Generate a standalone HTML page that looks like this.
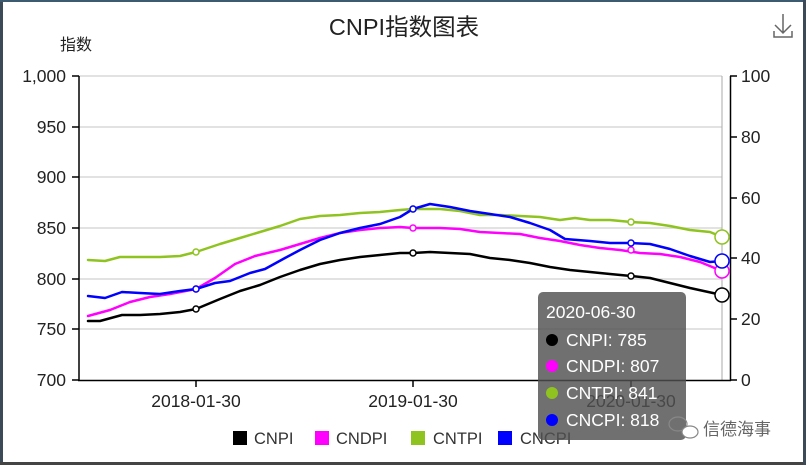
<!DOCTYPE html>
<html><head><meta charset="utf-8"><style>
body{margin:0;background:#fff;width:806px;height:465px;overflow:hidden;font-family:"Liberation Sans","Noto Sans CJK SC",sans-serif}
</style></head><body>
<svg width="806" height="465" viewBox="0 0 806 465" xmlns="http://www.w3.org/2000/svg" font-family="Liberation Sans, Noto Sans CJK SC, sans-serif">
<rect width="806" height="465" fill="#fff"/>
<rect x="0" y="0" width="3" height="465" fill="#3c4a58"/>
<rect x="0" y="0" width="806" height="2" fill="#3c5a70"/>
<rect x="0" y="462" width="806" height="3" fill="#444"/>
<rect x="803" y="0" width="3" height="465" fill="#3c4a58"/>
<text x="404" y="35" font-size="23.5" text-anchor="middle" fill="#222">CNPI指数图表</text>
<g stroke="#666" stroke-width="1.5" fill="none"><path d="M783 14V33M775 25L783 33L791 25M774 31V37H792V31"/></g>
<text x="60" y="50" font-size="16" fill="#222">指数</text>
<g stroke="#d8d8d8" stroke-width="1.5">
<line x1="79" y1="76" x2="722" y2="76"/><line x1="79" y1="127" x2="722" y2="127"/><line x1="79" y1="177" x2="722" y2="177"/><line x1="79" y1="228" x2="722" y2="228"/><line x1="79" y1="279" x2="722" y2="279"/><line x1="79" y1="329" x2="722" y2="329"/>
</g>
<line x1="722" y1="76" x2="722" y2="380" stroke="#aaa" stroke-width="1"/>
<g stroke="#000" stroke-width="1.5">
<line x1="79" y1="76" x2="79" y2="381"/><line x1="78" y1="380.5" x2="731" y2="380.5"/><line x1="730.5" y1="76" x2="730.5" y2="381"/>
<line x1="72" y1="76" x2="79" y2="76"/><line x1="72" y1="127" x2="79" y2="127"/><line x1="72" y1="177" x2="79" y2="177"/><line x1="72" y1="228" x2="79" y2="228"/><line x1="72" y1="279" x2="79" y2="279"/><line x1="72" y1="329" x2="79" y2="329"/><line x1="72" y1="380" x2="79" y2="380"/>
<line x1="730" y1="76" x2="737" y2="76"/><line x1="730" y1="137" x2="737" y2="137"/><line x1="730" y1="198" x2="737" y2="198"/><line x1="730" y1="258" x2="737" y2="258"/><line x1="730" y1="319" x2="737" y2="319"/><line x1="730" y1="380" x2="737" y2="380"/>
<line x1="196" y1="380" x2="196" y2="387"/><line x1="413" y1="380" x2="413" y2="387"/><line x1="631" y1="380" x2="631" y2="387"/>
</g>
<g font-size="17.5" fill="#222" text-anchor="end">
<text x="66" y="82">1,000</text><text x="66" y="133">950</text><text x="66" y="183">900</text><text x="66" y="234">850</text><text x="66" y="285">800</text><text x="66" y="335">750</text><text x="66" y="386">700</text>
</g>
<g font-size="17.5" fill="#222">
<text x="741" y="82">100</text><text x="741" y="143">80</text><text x="741" y="204">60</text><text x="741" y="264">40</text><text x="741" y="325">20</text><text x="741" y="386">0</text>
</g>
<g font-size="17.5" fill="#222" text-anchor="middle">
<text x="196" y="407">2018-01-30</text><text x="413" y="407">2019-01-30</text><text x="631" y="407">2020-01-30</text>
</g>
<g fill="none" stroke-width="2.5" stroke-linejoin="round" stroke-linecap="round">
<polyline stroke="#8fc31f" points="88,260 105,261 120,257 140,257 160,257 180,256 196,252 220,244 240,238 260,232 280,226 300,219 320,216 340,215 360,213 380,212 400,210 413,209 440,209 460,211 480,215 500,215 520,216 540,217 560,220 575,218 590,220 610,220 631,222 650,223 670,226 690,230 710,232 722,237"/>
<polyline stroke="#ff00ff" points="88,316 110,310 130,302 150,297 170,294 196,289 215,278 235,264 255,256 280,250 300,244 320,238 340,233 360,230 380,228 400,227 413,228 440,228 460,229 480,232 500,233 520,234 540,238 560,241 580,245 600,248 620,250 640,253 660,254 680,257 700,262 722,271"/>
<polyline stroke="#0000ff" points="88,296 105,298 122,292 140,293 160,294 180,291 196,289 215,283 230,281 250,273 265,269 285,258 300,250 320,240 340,233 360,228 380,224 400,217 413,209 430,204 450,207 470,211 490,214 510,217 530,223 550,230 565,239 590,241 610,243 631,243 650,244 670,249 690,256 710,262 722,261"/>
<polyline stroke="#000" points="88,321 100,321 122,315 140,315 160,314 180,312 196,309 220,299 240,291 260,285 280,277 300,270 320,264 340,260 360,257 380,255 400,253 413,253 430,252 450,253 470,254 490,258 510,260 530,263 550,267 570,270 590,272 610,274 631,276 650,278 670,283 690,288 722,295"/>
</g>
<g fill="#fff" stroke-width="1.5">
<circle cx="196" cy="252" r="3" stroke="#8fc31f"/><circle cx="413" cy="209" r="3" stroke="#8fc31f"/><circle cx="631" cy="222" r="3" stroke="#8fc31f"/>
<circle cx="196" cy="289" r="3" stroke="#ff00ff"/><circle cx="413" cy="228" r="3" stroke="#ff00ff"/><circle cx="631" cy="250" r="3" stroke="#ff00ff"/>
<circle cx="196" cy="289" r="3" stroke="#0000ff"/><circle cx="413" cy="209" r="3" stroke="#0000ff"/><circle cx="631" cy="243" r="3" stroke="#0000ff"/>
<circle cx="196" cy="309" r="3" stroke="#000"/><circle cx="413" cy="253" r="3" stroke="#000"/><circle cx="631" cy="276" r="3" stroke="#000"/>
<circle cx="722" cy="237" r="7" stroke="#8fc31f"/><circle cx="722" cy="271" r="7" stroke="#ff00ff"/><circle cx="722" cy="261" r="7" stroke="#0000ff"/><circle cx="722" cy="295" r="7" stroke="#000"/>
</g>
<g font-size="16.5" fill="#333">
<rect x="233" y="431" width="14" height="14" fill="#000"/><text x="254" y="444">CNPI</text>
<rect x="315" y="431" width="14" height="14" fill="#ff00ff"/><text x="336" y="444">CNDPI</text>
<rect x="411" y="431" width="14" height="14" fill="#8fc31f"/><text x="433" y="444">CNTPI</text>
<rect x="498" y="431" width="14" height="14" fill="#0000ff"/><text x="520" y="444">CNCPI</text>
</g>
<rect x="538" y="292" width="148" height="148" rx="5" fill="rgba(80,80,80,0.82)"/>
<g font-size="17.5" fill="#fff">
<text x="546" y="318">2020-06-30</text>
<circle cx="552" cy="340" r="6" fill="#000"/><text x="566" y="346">CNPI: 785</text>
<circle cx="552" cy="366" r="6" fill="#ff00ff"/><text x="566" y="372">CNDPI: 807</text>
<circle cx="552" cy="393" r="6" fill="#8fc31f"/><text x="566" y="399">CNTPI: 841</text>
<circle cx="552" cy="420" r="6" fill="#0000ff"/><text x="566" y="426">CNCPI: 818</text>
</g>
<g fill="none" stroke="#888" stroke-width="1.2"><ellipse cx="678" cy="424" rx="9" ry="7"/><ellipse cx="690" cy="432" rx="8" ry="6" fill="#fff"/></g>
<text x="703" y="435" font-size="17" fill="#666">信德海事</text>
</svg>
</body></html>
